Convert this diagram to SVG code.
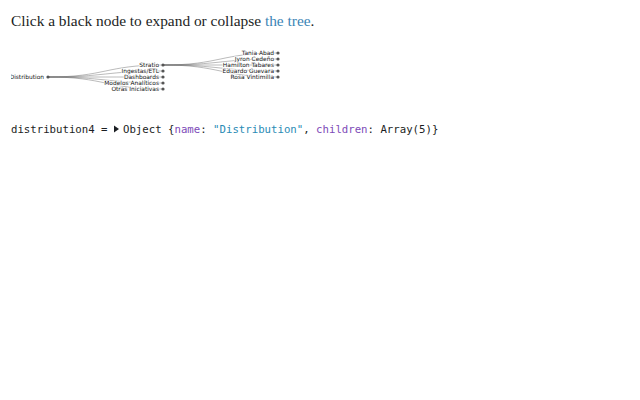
<svg xmlns="http://www.w3.org/2000/svg" width="640" height="400" viewBox="0 0 640 400">
<style>
.hdr{font-family:"Liberation Serif","DejaVu Serif",serif;font-size:15.4px;fill:#1b1e23}
.lnk{fill:#3b85b6}
.code{font-family:"DejaVu Sans Mono","Liberation Mono",monospace;font-size:10.7px;fill:#1b1e23}
.key{fill:#7d4bb8}
.str{fill:#2a8bb5}
.link{fill:none;stroke:#555;stroke-opacity:0.4;stroke-width:1}
.node text{font-family:"DejaVu Sans","Liberation Sans",sans-serif;font-size:5.9px;fill:#111;text-anchor:end;stroke:#fff;stroke-width:1.5;stroke-linejoin:round;paint-order:stroke}
.node circle{fill:#555}
</style>
<defs><clipPath id="clip"><rect x="11" y="40" width="629" height="60"/></clipPath></defs>
<rect width="640" height="400" fill="#fff"/>
<text class="hdr" x="11" y="26">Click a black node to expand or collapse <tspan class="lnk">the tree</tspan>.</text>
<g clip-path="url(#clip)">
<g id="connectors">
<path class="link" d="M48,77C105.5,77 105.5,65 163,65"/>
<path class="link" d="M48,77C105.5,77 105.5,71 163,71"/>
<path class="link" d="M48,77C105.5,77 105.5,77 163,77"/>
<path class="link" d="M48,77C105.5,77 105.5,83 163,83"/>
<path class="link" d="M48,77C105.5,77 105.5,89 163,89"/>
<path class="link" d="M163,65C220.5,65 220.5,53 278,53"/>
<path class="link" d="M163,65C220.5,65 220.5,59 278,59"/>
<path class="link" d="M163,65C220.5,65 220.5,65 278,65"/>
<path class="link" d="M163,65C220.5,65 220.5,71 278,71"/>
<path class="link" d="M163,65C220.5,65 220.5,77 278,77"/>
</g>
<g id="n-distribution" class="node"><circle cx="48" cy="77" r="1.6"/><text x="44" y="79">Distribution</text></g>
<g id="n-stratio" class="node"><circle cx="163" cy="65" r="1.6"/><text x="159" y="67">Stratio</text></g>
<g id="n-ingestas" class="node"><circle cx="163" cy="71" r="1.6"/><text x="159" y="73">Ingestas/ETL</text></g>
<g id="n-dashboards" class="node"><circle cx="163" cy="77" r="1.6"/><text x="159" y="79">Dashboards</text></g>
<g id="n-modelos" class="node"><circle cx="163" cy="83" r="1.6"/><text x="159" y="85">Modelos Analíticos</text></g>
<g id="n-otras" class="node"><circle cx="163" cy="89" r="1.6"/><text x="159" y="91">Otras Iniciativas</text></g>
<g id="n-tania" class="node"><circle cx="278" cy="53" r="1.6"/><text x="274" y="55">Tania Abad</text></g>
<g id="n-jyron" class="node"><circle cx="278" cy="59" r="1.6"/><text x="274" y="61">Jyron Cedeño</text></g>
<g id="n-hamilton" class="node"><circle cx="278" cy="65" r="1.6"/><text x="274" y="67">Hamilton Tabares</text></g>
<g id="n-eduardo" class="node"><circle cx="278" cy="71" r="1.6"/><text x="274" y="73">Eduardo Guevara</text></g>
<g id="n-rosa" class="node"><circle cx="278" cy="77" r="1.6"/><text x="274" y="79">Rosa Vintimilla</text></g>
</g>
<text class="code" x="11" y="133">distribution4 = </text>
<path d="M114,125.5 L119,129 L114,132.5Z" fill="#1b1e23"/>
<text class="code" x="123" y="133">Object {<tspan class="key">name</tspan>: <tspan class="str">"Distribution"</tspan>, <tspan class="key">children</tspan>: Array(5)}</text>
</svg>
